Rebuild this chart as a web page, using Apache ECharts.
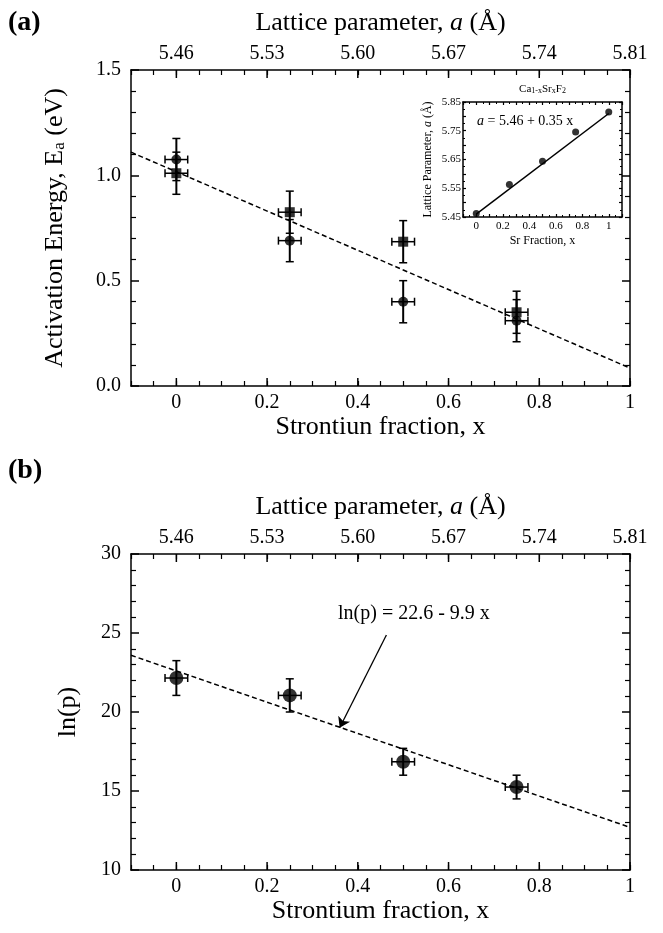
<!DOCTYPE html>
<html><head><meta charset="utf-8">
<script src="https://cdn.jsdelivr.net/npm/echarts@6/dist/echarts.min.js"></script>
<style>html,body{margin:0;padding:0;background:#fff}#c{width:663px;height:933px}</style>
</head><body><div id="c"></div>
<script>
// ---- data ----
const xFrac = [0, 0.25, 0.5, 0.75];
const xFracErr = [0.025, 0.025, 0.025, 0.025];
const eaCircle = [1.075, 0.69, 0.40, 0.31];
const eaSquare = [1.01, 0.825, 0.685, 0.35];
const eaErr = [0.1, 0.1, 0.1, 0.1];
const lnP = [22.15, 21.05, 16.85, 15.25];
const lnPErr = [1.1, 1.05, 0.85, 0.75];
const fitAx = [-0.1, 1];
const fitAy = [1.11, 0.085];
const fitBx = [-0.1, 1];
const fitBy = [23.59, 12.7];
const arrowX = [0.463, 0.36];
const arrowY = [24.87, 19.0];
const insetX = [0, 0.25, 0.5, 0.75, 1];
const insetA = [5.462, 5.563, 5.644, 5.746, 5.815];
const insetFitX = [0, 1];
const insetFitY = [5.46, 5.81];
const majorX = [0, 0.2, 0.4, 0.6, 0.8, 1];
const bottomLabels = ['0', '0.2', '0.4', '0.6', '0.8', '1'];
const topLabels = ['5.46', '5.53', '5.60', '5.67', '5.74', '5.81'];
const yValsA = [0, 0.5, 1.0, 1.5];
const yLabelsA = ['0.0', '0.5', '1.0', '1.5'];
const yValsB = [10, 15, 20, 25, 30];
const yLabelsB = ['10', '15', '20', '25', '30'];
const insetXVals = [0, 0.2, 0.4, 0.6, 0.8, 1];
const insetXLabels = ['0', '0.2', '0.4', '0.6', '0.8', '1'];
const insetYVals = [5.45, 5.55, 5.65, 5.75, 5.85];
const insetYLabels = ['5.45', '5.55', '5.65', '5.75', '5.85'];

// ---- helpers ----
const SERIF = '"Liberation Serif", "DejaVu Serif", serif';
function pick(vals, labels) {
  return function (v) {
    for (let i = 0; i < vals.length; i++) if (Math.abs(v - vals[i]) < 1e-6) return labels[i];
    return '';
  };
}
const chart = echarts.init(document.getElementById('c'), null, { renderer: 'canvas' });

function errRender(params, api) {
  const x = api.value(0), y = api.value(1), ex = api.value(2), ey = api.value(3);
  const t = api.coord([x, y + ey]), b = api.coord([x, y - ey]);
  const l = api.coord([x - ex, y]), r = api.coord([x + ex, y]);
  const cap = 4;
  const st = { stroke: '#000', lineWidth: 2 };
  const st2 = { stroke: '#000', lineWidth: 1.5 };
  return {
    type: 'group', children: [
      { type: 'line', shape: { x1: t[0], y1: t[1], x2: b[0], y2: b[1] }, style: st },
      { type: 'line', shape: { x1: t[0] - cap, y1: t[1], x2: t[0] + cap, y2: t[1] }, style: st2 },
      { type: 'line', shape: { x1: b[0] - cap, y1: b[1], x2: b[0] + cap, y2: b[1] }, style: st2 },
      { type: 'line', shape: { x1: l[0], y1: l[1], x2: r[0], y2: r[1] }, style: st2 },
      { type: 'line', shape: { x1: l[0], y1: l[1] - cap, x2: l[0], y2: l[1] + cap }, style: st2 },
      { type: 'line', shape: { x1: r[0], y1: r[1] - cap, x2: r[0], y2: r[1] + cap }, style: st2 }
    ]
  };
}
function majorTickRender(params, api) {
  const cs = params.coordSys;
  const p = api.coord([api.value(0), api.value(1)]);
  const len = 8;
  const st = { stroke: '#000', lineWidth: 1.5 };
  return {
    type: 'group', children: [
      { type: 'line', shape: { x1: p[0], y1: cs.y + cs.height, x2: p[0], y2: cs.y + cs.height - len }, style: st },
      { type: 'line', shape: { x1: p[0], y1: cs.y, x2: p[0], y2: cs.y + len }, style: st }
    ]
  };
}

const axLine = { show: true, onZero: false, lineStyle: { color: '#000', width: 1.5 } };
function xBottom(grid, name, nameGap) {
  return {
    type: 'value', gridIndex: grid, position: 'bottom', min: -0.1, max: 1, interval: 0.05,
    axisLine: axLine, splitLine: { show: false },
    axisTick: { show: true, inside: true, length: 5, lineStyle: { color: '#000', width: 1.2 } },
    axisLabel: { formatter: pick(majorX, bottomLabels), fontFamily: SERIF, fontSize: 20, color: '#000', margin: 7 },
    name: name, nameLocation: 'middle', nameGap: nameGap,
    nameTextStyle: { fontFamily: SERIF, fontSize: 26, color: '#000' }
  };
}
function xTop(grid, nameGap) {
  return {
    type: 'value', gridIndex: grid, position: 'top', min: -0.1, max: 1, interval: 0.05,
    axisLine: axLine, splitLine: { show: false },
    axisTick: { show: true, inside: true, length: 5, lineStyle: { color: '#000', width: 1.2 } },
    axisLabel: { formatter: pick(majorX, topLabels), fontFamily: SERIF, fontSize: 20, color: '#000', margin: 6 },
    name: '{n|Lattice parameter, }{i|a}{n| (Å)}', nameLocation: 'middle', nameGap: nameGap,
    nameTextStyle: {
      fontFamily: SERIF, fontSize: 26, color: '#000',
      rich: { n: { fontFamily: SERIF, fontSize: 26, color: '#000' }, i: { fontFamily: SERIF, fontSize: 26, fontStyle: 'italic', color: '#000' } }
    }
  };
}
function yAxisLeft(grid, min, max, interval, vals, labels, name, nameGap, rich) {
  return {
    type: 'value', gridIndex: grid, position: 'left', min: min, max: max, interval: interval,
    axisLine: axLine, splitLine: { show: false },
    axisTick: { show: true, inside: true, length: 8, lineStyle: { color: '#000', width: 1.5 } },
    minorTick: { show: true, splitNumber: 5, length: 5, lineStyle: { color: '#000', width: 1.2 } },
    axisLabel: { formatter: pick(vals, labels), fontFamily: SERIF, fontSize: 20, color: '#000', margin: 10 },
    name: name, nameLocation: 'middle', nameGap: nameGap, nameRotate: 90,
    nameTextStyle: { fontFamily: SERIF, fontSize: 26, color: '#000', rich: rich }
  };
}
function yAxisRight(grid, min, max, interval) {
  return {
    type: 'value', gridIndex: grid, position: 'right', min: min, max: max, interval: interval,
    axisLine: axLine, splitLine: { show: false },
    axisTick: { show: true, inside: true, length: 8, lineStyle: { color: '#000', width: 1.5 } },
    minorTick: { show: true, splitNumber: 5, length: 5, lineStyle: { color: '#000', width: 1.2 } },
    axisLabel: { show: false }
  };
}

const zip = (a, b) => a.map((v, i) => [v, b[i]]);
const errData = (xs, ys, exs, eys) => xs.map((v, i) => [v, ys[i], exs[i], eys[i]]);

const SUBA = { n: { fontFamily: SERIF, fontSize: 26, color: '#000' }, s: { fontFamily: SERIF, fontSize: 17, color: '#000', verticalAlign: 'bottom', lineHeight: 8 } };

const insetTick = { show: true, inside: true, length: 3, lineStyle: { color: '#000', width: 1.2 } };
const insetMinor = { show: true, splitNumber: 2, length: 2, lineStyle: { color: '#000', width: 1 } };
const insetLine = { show: true, onZero: false, lineStyle: { color: '#000', width: 1.5 } };

const option = {
  animation: false,
  backgroundColor: '#fff',
  grid: [
    { left: 131, right: 33, top: 70, height: 316 },
    { left: 131, right: 33, top: 554, height: 316 },
    { left: 463, right: 41, top: 102, height: 115, show: true, backgroundColor: '#fff', borderWidth: 0, z: 5 }
  ],
  xAxis: [
    xBottom(0, 'Strontiun fraction, x', 28),
    xTop(0, 34),
    xBottom(1, 'Strontium fraction, x', 28),
    xTop(1, 34),
    {
      type: 'value', gridIndex: 2, position: 'bottom', min: -0.1, max: 1.1, interval: 0.1, z: 6,
      axisLine: insetLine, splitLine: { show: false }, axisTick: insetTick, minorTick: insetMinor,
      axisLabel: { formatter: pick(insetXVals, insetXLabels), fontFamily: SERIF, fontSize: 11, color: '#000', margin: 4 },
      name: 'Sr Fraction, x', nameLocation: 'middle', nameGap: 18,
      nameTextStyle: { fontFamily: SERIF, fontSize: 12, color: '#000' }
    },
    {
      type: 'value', gridIndex: 2, position: 'top', min: -0.1, max: 1.1, interval: 0.1, z: 6,
      axisLine: insetLine, splitLine: { show: false }, axisTick: insetTick, minorTick: insetMinor,
      axisLabel: { show: false },
      name: '{n|Ca}{s|1-x}{n|Sr}{s|x}{n|F}{s|2}', nameLocation: 'middle', nameGap: 7,
      nameTextStyle: {
        fontFamily: SERIF, fontSize: 11, color: '#000',
        rich: { n: { fontFamily: SERIF, fontSize: 11, color: '#000' }, s: { fontFamily: SERIF, fontSize: 8, color: '#000', verticalAlign: 'bottom', lineHeight: 5 } }
      }
    }
  ],
  yAxis: [
    yAxisLeft(0, 0, 1.5, 0.5, yValsA, yLabelsA, '{n|Activation Energy, E}{s|a}{n| (eV)}', 63, SUBA),
    yAxisRight(0, 0, 1.5, 0.5),
    yAxisLeft(1, 10, 30, 5, yValsB, yLabelsB, 'ln(p)', 50, null),
    yAxisRight(1, 10, 30, 5),
    {
      type: 'value', gridIndex: 2, position: 'left', min: 5.45, max: 5.85, interval: 0.05, z: 6,
      axisLine: insetLine, splitLine: { show: false }, axisTick: insetTick, minorTick: insetMinor,
      axisLabel: { formatter: pick(insetYVals, insetYLabels), fontFamily: SERIF, fontSize: 11, color: '#000', margin: 2 },
      name: '{n|Lattice Parameter, }{i|a}{n| (Å)}', nameLocation: 'middle', nameGap: 29, nameRotate: 90,
      nameTextStyle: {
        fontFamily: SERIF, fontSize: 12, color: '#000',
        rich: { n: { fontFamily: SERIF, fontSize: 12, color: '#000' }, i: { fontFamily: SERIF, fontSize: 12, fontStyle: 'italic', color: '#000' } }
      }
    },
    {
      type: 'value', gridIndex: 2, position: 'right', min: 5.45, max: 5.85, interval: 0.05, z: 6,
      axisLine: insetLine, splitLine: { show: false }, axisTick: insetTick, minorTick: insetMinor,
      axisLabel: { show: false }
    }
  ],
  series: [
    // panel (a)
    { type: 'line', xAxisIndex: 0, yAxisIndex: 0, data: zip(fitAx, fitAy), symbol: 'none',
      lineStyle: { color: '#000', width: 1.5, type: [5, 3] }, z: 2 },
    { type: 'custom', xAxisIndex: 0, yAxisIndex: 0, renderItem: errRender, encode: { x: 0, y: 1 },
      data: errData(xFrac, eaCircle, xFracErr, eaErr), z: 3 },
    { type: 'custom', xAxisIndex: 0, yAxisIndex: 0, renderItem: errRender, encode: { x: 0, y: 1 },
      data: errData(xFrac, eaSquare, xFracErr, eaErr), z: 3 },
    { type: 'scatter', xAxisIndex: 0, yAxisIndex: 0, data: zip(xFrac, eaCircle), symbol: 'circle', symbolSize: 10,
      itemStyle: { color: '#000' }, z: 4 },
    { type: 'scatter', xAxisIndex: 0, yAxisIndex: 0, data: zip(xFrac, eaSquare), symbol: 'rect', symbolSize: 10,
      itemStyle: { color: '#000' }, z: 4 },
    { type: 'custom', xAxisIndex: 0, yAxisIndex: 0, renderItem: majorTickRender, encode: { x: 0, y: 1 },
      data: majorX.map(v => [v, 0.75]), z: 5, silent: true },
    // panel (b)
    { type: 'line', xAxisIndex: 2, yAxisIndex: 2, data: zip(fitBx, fitBy), symbol: 'none',
      lineStyle: { color: '#000', width: 1.5, type: [5, 3] }, z: 2 },
    { type: 'custom', xAxisIndex: 2, yAxisIndex: 2, renderItem: errRender, encode: { x: 0, y: 1 },
      data: errData(xFrac, lnP, xFracErr, lnPErr), z: 3 },
    { type: 'scatter', xAxisIndex: 2, yAxisIndex: 2, data: zip(xFrac, lnP), symbol: 'circle', symbolSize: 14,
      itemStyle: { color: '#000' }, z: 4 },
    { type: 'custom', xAxisIndex: 2, yAxisIndex: 2, renderItem: majorTickRender, encode: { x: 0, y: 1 },
      data: majorX.map(v => [v, 20]), z: 5, silent: true },
    { type: 'lines', coordinateSystem: 'cartesian2d', xAxisIndex: 2, yAxisIndex: 2,
      data: [{ coords: zip(arrowX, arrowY) }], symbol: ['none', 'arrow'], symbolSize: 10,
      lineStyle: { color: '#000', width: 1.3, opacity: 1 }, z: 6 },
    // inset
    { type: 'line', xAxisIndex: 4, yAxisIndex: 4, data: zip(insetFitX, insetFitY), symbol: 'none',
      lineStyle: { color: '#000', width: 1.5 }, z: 7 },
    { type: 'scatter', xAxisIndex: 4, yAxisIndex: 4, data: zip(insetX, insetA), symbol: 'circle', symbolSize: 7,
      itemStyle: { color: '#000' }, z: 8 }
  ],
  graphic: [
    { type: 'text', left: 8, top: 9, style: { text: '(a)', fontFamily: SERIF, fontSize: 28, fontWeight: 'bold', fill: '#000' } },
    { type: 'text', left: 8, top: 457, style: { text: '(b)', fontFamily: SERIF, fontSize: 28, fontWeight: 'bold', fill: '#000' } },
    { type: 'text', left: 338, top: 604, style: { text: 'ln(p) = 22.6 - 9.9 x', fontFamily: SERIF, fontSize: 20, fill: '#000' } },
    { type: 'text', left: 477, top: 114, z: 20, style: {
        text: '{i|a} = 5.46 + 0.35 x', fontFamily: SERIF, fontSize: 14, fill: '#000',
        rich: { i: { fontFamily: SERIF, fontSize: 14, fontStyle: 'italic', fill: '#000' } } } }
  ]
};
chart.setOption(option);
</script></body></html>
